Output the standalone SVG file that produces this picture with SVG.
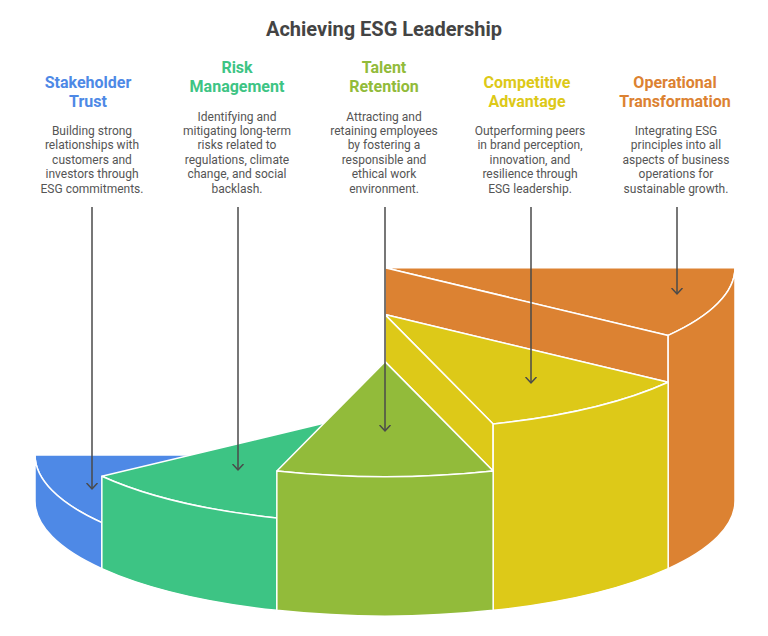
<svg xmlns="http://www.w3.org/2000/svg" width="768" height="636" viewBox="0 0 768 636">
  <style>
    .title { font-family: Roboto, "Liberation Sans", sans-serif; font-weight: 700; font-size: 20px; fill: #444444; text-anchor: middle; }
    .head { font-family: Roboto, "Liberation Sans", sans-serif; font-weight: 700; font-size: 16px; text-anchor: middle; }
    .desc { font-family: Roboto, "Liberation Sans", sans-serif; font-size: 12px; fill: #555555; text-anchor: middle; }
    .face { stroke: #ffffff; stroke-width: 1.5; stroke-linejoin: round; }
    .blue { fill: #4E89E6; }
    .green { fill: #3DC484; }
    .olive { fill: #92BB3A; }
    .yellow { fill: #DDC918; }
    .orange { fill: #DC8232; }
    .conn { stroke: #4a4a4a; stroke-width: 1.5; fill: none; marker-end: url(#chev); }
  </style>
  <defs>
    <marker id="chev" viewBox="0 0 8 13" refX="6.5" refY="6.5" markerWidth="8" markerHeight="13" markerUnits="userSpaceOnUse" orient="auto">
      <path d="M0.5,1 L6.5,6.5 L0.5,12" fill="none" stroke="#4a4a4a" stroke-width="1.5"/>
    </marker>
  </defs>

  <rect width="768" height="636" fill="#ffffff"/>
  <text class="title" x="384" y="36">Achieving ESG Leadership</text>

  <g id="stakeholder-trust">
    <path class="face blue" d="M385,455 L101.84,522.6 A350,115 0 0 1 35,455 Z"/>
    <path class="face blue" d="M101.84,522.6 A350,115 0 0 1 35,455 L35,501 A350,115 0 0 0 101.84,568.6 Z"/>
    <text class="head blue" x="88" y="88">Stakeholder</text>
    <text class="head blue" x="88" y="107">Trust</text>
    <text class="desc" x="92" y="135">Building strong</text>
    <text class="desc" x="92" y="149.4">relationships with</text>
    <text class="desc" x="92" y="163.8">customers and</text>
    <text class="desc" x="92" y="178.2">investors through</text>
    <text class="desc" x="92" y="192.6">ESG commitments.</text>
  </g>

  <g id="risk-management">
    <path class="face green" d="M385,408.6 L276.84,517.97 A350,115 0 0 1 101.84,476.2 Z"/>
    <path class="face green" d="M276.84,517.97 A350,115 0 0 1 101.84,476.2 L101.84,568.6 A350,115 0 0 0 276.84,610.37 Z"/>
    <text class="head green" x="237" y="73">Risk</text>
    <text class="head green" x="237" y="92">Management</text>
    <text class="desc" x="237" y="120.6">Identifying and</text>
    <text class="desc" x="237" y="135">mitigating long-term</text>
    <text class="desc" x="237" y="149.4">risks related to</text>
    <text class="desc" x="237" y="163.8">regulations, climate</text>
    <text class="desc" x="237" y="178.2">change, and social</text>
    <text class="desc" x="237" y="192.6">backlash.</text>
  </g>

  <g id="operational-transformation">
    <path class="face orange" d="M385,267.8 L735,267.8 A350,115 0 0 1 668.16,335.4 Z"/>
    <path class="face orange" d="M385,267.8 L668.16,335.4 L668.16,382.2 L385,314.6 Z"/>
    <path class="face orange" d="M735,267.8 A350,115 0 0 1 668.16,335.4 L668.16,568.6 A350,115 0 0 0 735,501 Z"/>
    <text class="head orange" x="675" y="88">Operational</text>
    <text class="head orange" x="675" y="107">Transformation</text>
    <text class="desc" x="676" y="135">Integrating ESG</text>
    <text class="desc" x="676" y="149.4">principles into all</text>
    <text class="desc" x="676" y="163.8">aspects of business</text>
    <text class="desc" x="676" y="178.2">operations for</text>
    <text class="desc" x="676" y="192.6">sustainable growth.</text>
  </g>

  <g id="competitive-advantage">
    <path class="face yellow" d="M385,314.6 L668.16,382.2 A350,115 0 0 1 493.16,423.97 Z"/>
    <path class="face yellow" d="M385,314.6 L493.16,423.97 L493.16,470.97 L385,361.6 Z"/>
    <path class="face yellow" d="M668.16,382.2 A350,115 0 0 1 493.16,423.97 L493.16,610.37 A350,115 0 0 0 668.16,568.6 Z"/>
    <text class="head yellow" x="527" y="88">Competitive</text>
    <text class="head yellow" x="527" y="107">Advantage</text>
    <text class="desc" x="530" y="135">Outperforming peers</text>
    <text class="desc" x="530" y="149.4">in brand perception,</text>
    <text class="desc" x="530" y="163.8">innovation, and</text>
    <text class="desc" x="530" y="178.2">resilience through</text>
    <text class="desc" x="530" y="192.6">ESG leadership.</text>
  </g>

  <g id="talent-retention">
    <path class="face olive" d="M385,361.6 L493.16,470.97 A350,115 0 0 1 276.84,470.97 Z"/>
    <path class="face olive" d="M493.16,470.97 A350,115 0 0 1 276.84,470.97 L276.84,610.37 A350,115 0 0 0 493.16,610.37 Z"/>
    <text class="head olive" x="384" y="73">Talent</text>
    <text class="head olive" x="384" y="92">Retention</text>
    <text class="desc" x="384" y="120.6">Attracting and</text>
    <text class="desc" x="384" y="135">retaining employees</text>
    <text class="desc" x="384" y="149.4">by fostering a</text>
    <text class="desc" x="384" y="163.8">responsible and</text>
    <text class="desc" x="384" y="178.2">ethical work</text>
    <text class="desc" x="384" y="192.6">environment.</text>
  </g>

  <g id="connectors">
    <line class="conn" x1="92" y1="207" x2="92" y2="489"/>
    <line class="conn" x1="238" y1="207" x2="238" y2="470"/>
    <line class="conn" x1="385" y1="207" x2="385" y2="431"/>
    <line class="conn" x1="531" y1="207" x2="531" y2="383"/>
    <line class="conn" x1="677" y1="207" x2="677" y2="294"/>
  </g>
</svg>
